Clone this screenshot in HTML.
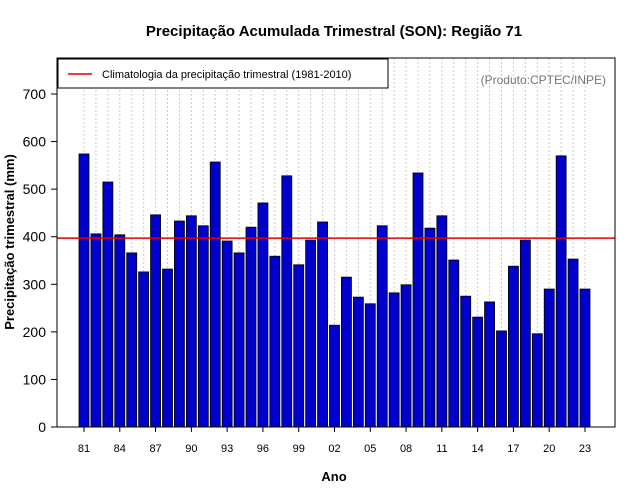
<!DOCTYPE html>
<html><head><meta charset="utf-8">
<style>
body{margin:0;background:#fff;}
svg{display:block;font-family:"Liberation Sans",sans-serif;}
</style></head>
<body>
<svg id="chart" width="640" height="500">
<text x="334" y="36" text-anchor="middle" font-size="15" font-weight="bold">Precipitação Acumulada Trimestral (SON): Região 71</text>
<g id="grid"></g>
<g id="bars"></g>
<g id="axes"></g>
<rect x="57" y="58" width="558" height="369" fill="none" stroke="#000"/>
<g>
<rect x="58" y="59" width="330" height="29" fill="#fff" stroke="#000"/>
<line x1="68" y1="74" x2="92" y2="74" stroke="#e00000" stroke-width="1.5"/>
<text x="102" y="78" font-size="11">Climatologia da precipitação trimestral (1981-2010)</text>
</g>
<text x="606" y="84" text-anchor="end" font-size="12" fill="#777">(Produto:CPTEC/INPE)</text>
<text x="334" y="481" text-anchor="middle" font-size="13" font-weight="bold">Ano</text>
<text transform="translate(14,242) rotate(-90)" text-anchor="middle" font-size="13" font-weight="bold">Precipitação trimestral (mm)</text>
</svg>
<script>
const years = [1981,1982,1983,1984,1985,1986,1987,1988,1989,1990,1991,1992,1993,1994,1995,1996,1997,1998,1999,2000,2001,2002,2003,2004,2005,2006,2007,2008,2009,2010,2011,2012,2013,2014,2015,2016,2017,2018,2019,2020,2021,2022,2023];
const values = [574,406,515,404,366,326,446,332,433,444,423,557,391,366,420,471,359,528,341,393,431,214,315,273,259,423,282,299,534,418,444,351,275,231,263,202,338,393,196,290,570,353,290];
const climatology = 397;
const yTicks = [0,100,200,300,400,500,600,700];
const xTickYears = [1981,1984,1987,1990,1993,1996,1999,2002,2005,2008,2011,2014,2017,2020,2023];

const NS="http://www.w3.org/2000/svg";
const y0=427, pxPerUnit=(427-94)/700;
const yS=v=>y0-v*pxPerUnit;
const x0=84, step=(585-84)/42;
const xS=yr=>x0+(yr-1981)*step;
function mk(tag,attrs,parent){const e=document.createElementNS(NS,tag);for(const k in attrs)e.setAttribute(k,attrs[k]);parent.appendChild(e);return e;}
const grid=document.getElementById('grid'),bars=document.getElementById('bars'),axes=document.getElementById('axes');
years.forEach((yr,i)=>{
  const g=mk('line',{x1:xS(yr),x2:xS(yr),y1:58,y2:427,stroke:'#ccc','stroke-dasharray':'2,2'},grid);
  
  
  const b=mk('rect',{x:xS(yr)-5,y:yS(values[i]),width:10,height:y0-yS(values[i]),fill:'#0000cd',stroke:'#000','stroke-width':0.8},bars);
  
  
});
const cl=mk('line',{x1:57,x2:615,y1:yS(climatology),y2:yS(climatology),stroke:'#e00000','stroke-width':1.5},bars);


yTicks.forEach(v=>{
  const t=mk('line',{x1:51,x2:57,y1:yS(v),y2:yS(v),stroke:'#000'},axes);
  
  
  const tx=mk('text',{x:46,y:yS(v)+5,'text-anchor':'end','font-size':14},axes);
  tx.textContent=v;
  
  
});
xTickYears.forEach(yr=>{
  const t=mk('line',{x1:xS(yr),x2:xS(yr),y1:427,y2:432,stroke:'#000'},axes);
  
  
  const tx=mk('text',{x:xS(yr),y:452,'text-anchor':'middle','font-size':11},axes);
  tx.textContent=String(yr).slice(2);
  
  
});
</script>
</body></html>
